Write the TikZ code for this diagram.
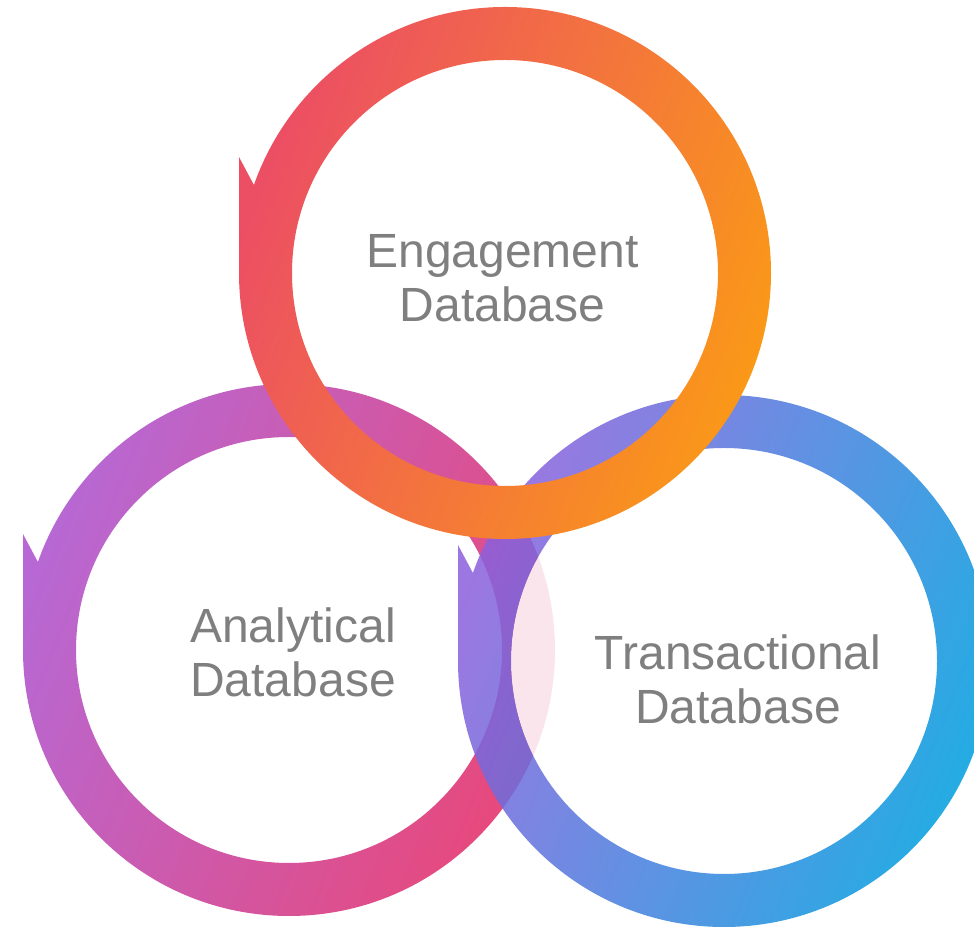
\documentclass[tikz,border=0pt]{standalone}
\usepackage{fontspec}
\setmainfont{Liberation Sans}

\definecolor{engleft}{RGB}{236,78,100}
\definecolor{engright}{RGB}{250,152,24}
\definecolor{analeft}{RGB}{183,104,212}
\definecolor{anaright}{RGB}{232,72,122}
\definecolor{traleft}{RGB}{140,96,220}
\definecolor{traright}{RGB}{0,158,222}
\definecolor{labelgray}{RGB}{127,127,127}

% ring with a notched tail on the left, centre given as coordinate name
\newcommand\dbring[1]{
  ([shift={(266,0)}]#1) arc[start angle=0, end angle=360, radius=266]
  ([shift={(-266,0)}]#1) -- ++(53,0) -- ++(0,116) -- ++(-21,0)
    -- ++(-16,-30) -- ++(-16,30) -- cycle
  ([shift={(213,0)}]#1) arc[start angle=0, end angle=-360, radius=213]
}

\begin{document}
\begin{tikzpicture}[
        x = 0.75pt, y = 0.75pt,
        engring/.style = {left color = engleft, right color = engright,
            shading angle = 68},
        anaring/.style = {left color = analeft, right color = anaright,
            shading angle = 68},
        traring/.style = {left color = traleft, right color = traright,
            shading angle = 68, opacity = 0.86},
        dblabel/.style = {align = center, inner sep = 0pt,
            text = labelgray, font = \fontsize{36}{40.5}\selectfont}
    ]

    \useasboundingbox (0,0) rectangle (974,927);

    \coordinate (eng) at (505,654);
    \coordinate (ana) at (289,277);
    \coordinate (tra) at (724,266);

    % analytical ring at the back
    \shade[anaring] \dbring{ana};

    % transactional ring, see-through, with a pale centre
    \fill[white, fill opacity = 0.86] (tra) circle[radius = 213];
    \shade[traring] \dbring{tra};

    % engagement ring on top
    \shade[engring] \dbring{eng};

    \node[dblabel] (englabel) at (502.5,649) {Engagement\\Database};
    \node[dblabel] (analabel) at (293,275) {Analytical\\Database};
    \node[dblabel] (tralabel) at (738,248) {Transactional\\Database};

\end{tikzpicture}
\end{document}
